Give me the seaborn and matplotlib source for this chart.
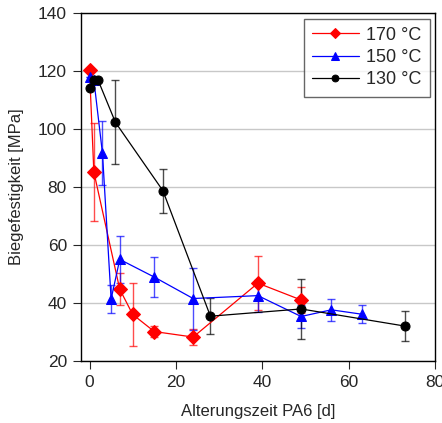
import numpy as np
import pandas as pd
import seaborn as sns
from matplotlib import pyplot as plt

# 170 °C
days_170 = [0, 1, 7, 10, 15, 24, 39, 49]
mpa_170 = [120.3, 85.2, 44.7, 36.0, 30.1, 28.2, 46.8, 41.0]
err_170 = [0.0, 17.0, 5.5, 10.8, 1.8, 2.8, 9.4, 4.5]

# 150 °C
days_150 = [0, 1, 3, 5, 7, 15, 24, 39, 49, 56, 63]
mpa_150 = [117.8, 117.0, 91.6, 41.3, 55.0, 48.9, 41.5, 42.5, 35.3, 37.6, 36.1]
err_150 = [0.0, 0.0, 11.0, 4.7, 8.0, 7.0, 10.7, 5.5, 4.0, 3.7, 3.0]

# 130 °C
days_130 = [0, 1, 2, 6, 17, 28, 49, 73]
mpa_130 = [114.2, 116.8, 116.8, 102.3, 78.7, 35.4, 37.9, 32.0]
err_130 = [0.0, 0.0, 0.0, 14.5, 7.6, 6.2, 10.2, 5.2]

series = [
    ("170 °C", days_170, mpa_170, err_170, "red", "D"),
    ("150 °C", days_150, mpa_150, err_150, "blue", "^"),
    ("130 °C", days_130, mpa_130, err_130, "black", "o"),
]

sns.set_style("ticks")
plt.rcParams["font.family"] = ["Liberation Sans", "DejaVu Sans"]
plt.rcParams["font.size"] = 12

fig, ax = plt.subplots(figsize=(4.42, 4.23), dpi=100)

for label, x, y, e, color, marker in series:
    df = pd.DataFrame({"x": x, "y": y})
    ax.errorbar(x, y, yerr=e, fmt="none", ecolor=color, elinewidth=1,
                capsize=3, capthick=1, alpha=0.7, zorder=2)
    sns.lineplot(data=df, x="x", y="y", ax=ax, color=color, marker=marker,
                 markersize=7 if marker != "o" else 6.5, markeredgecolor=color,
                 linewidth=0.9, label=label, sort=False, zorder=3)

ax.set_xlim(-2, 80)
ax.set_ylim(20, 140)
ax.set_xticks([0, 20, 40, 60, 80])
ax.set_yticks([20, 40, 60, 80, 100, 120, 140])
ax.yaxis.grid(True, color="#c8c8c8", linewidth=1)
ax.set_axisbelow(True)
ax.tick_params(axis="both", direction="out", length=6, pad=4, labelsize=12.5,
               top=False, right=False)
for s in ax.spines.values():
    s.set_linewidth(1)
    s.set_color("black")

ax.set_xlabel("Alterungszeit PA6 [d]", fontsize=12, labelpad=10)
ax.set_ylabel("Biegefestigkeit [MPa]", fontsize=12, labelpad=10)

leg = ax.legend(loc="upper right", frameon=True, fancybox=False, fontsize=13,
                handlelength=2.6, borderpad=0.45, labelspacing=0.3,
                handletextpad=0.4, markerscale=0.75, borderaxespad=0.3)
leg.get_frame().set_edgecolor("#404040")
leg.get_frame().set_linewidth(1)

fig.subplots_adjust(left=0.183, right=0.984, top=0.969, bottom=0.147)
fig.savefig("out.png", dpi=100)
